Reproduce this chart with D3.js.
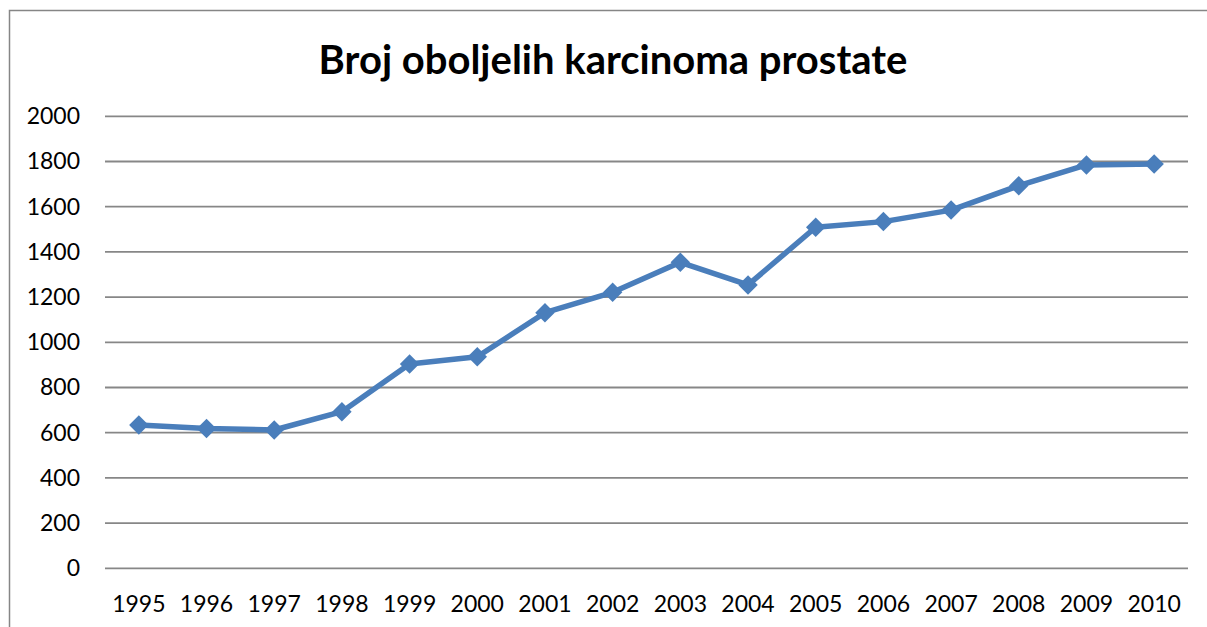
<!DOCTYPE html>
<html>
<head>
<meta charset="utf-8">
<script src="https://cdn.jsdelivr.net/npm/d3@7"></script>
<style>
  body { margin: 0; background: #fff; }
  svg { display: block; font-family: Lato, "Open Sans", sans-serif; }
</style>
</head>
<body>
<svg class="chart"></svg>
<script>
const years = ["1995", "1996", "1997", "1998", "1999", "2000", "2001", "2002",
               "2003", "2004", "2005", "2006", "2007", "2008", "2009", "2010"]
const cases = [634, 619, 612, 693, 904, 936, 1131, 1221,
               1354, 1254, 1509, 1534, 1585, 1693, 1785, 1789]
const yTicks = [0, 200, 400, 600, 800, 1000, 1200, 1400, 1600, 1800, 2000]
const title = "Broj oboljelih karcinoma prostate"

const width = 1207
const height = 627
const plot = { left: 105, right: 1188, top: 116.3, bottom: 568.3 }
const blue = "#4a7ebb"

const svg = d3.select("svg.chart")
        .attr("width", width)
        .attr("height", height)

// chart frame (left and top edges are the only ones in view)
svg.append("path")
        .attr("d", "M9.5,627 V10.5 H1207")
        .style("fill", "none")
        .style("stroke", "#868686")
        .style("stroke-width", 1.5)

svg.append("text")
        .attr("x", 613)
        .attr("y", 74)
        .attr("text-anchor", "middle")
        .style("font-weight", "bold")
        .style("font-size", "40px")
        .style("fill", "#000")
        .text(title)

const xScale = d3.scaleBand()
        .domain(years)
        .range([plot.left, plot.right])

const yScale = d3.scaleLinear()
        .domain([0, 2000])
        .range([plot.bottom, plot.top])

// gridlines
svg.append("g")
        .selectAll("line")
        .data(yTicks)
        .enter()
        .append("line")
        .attr("x1", plot.left)
        .attr("x2", plot.right)
        .attr("y1", d => yScale(d))
        .attr("y2", d => yScale(d))
        .style("stroke", "#878787")
        .style("stroke-width", 1.8)

const yAxis = svg.append("g")
        .attr("transform", "translate(" + 80 + ",0)")
        .call(d3.axisLeft(yScale).tickValues(yTicks).tickFormat(d3.format("d")).tickSize(0).tickPadding(0))
yAxis.select(".domain").remove()
yAxis.selectAll("text")
        .style("font-family", "Lato, 'Open Sans', sans-serif")
        .style("font-size", "23px")
        .style("fill", "#000")

const xAxis = svg.append("g")
        .attr("transform", "translate(0," + plot.bottom + ")")
        .call(d3.axisBottom(xScale).tickSize(0).tickPadding(27.5))
xAxis.select(".domain").remove()
xAxis.selectAll("text")
        .style("font-family", "Lato, 'Open Sans', sans-serif")
        .style("font-size", "23px")
        .style("fill", "#000")

const cx = (d, i) => xScale(years[i]) + xScale.bandwidth() / 2

const line = d3.line()
        .x((d, i) => cx(d, i))
        .y(d => yScale(d))

svg.append("path")
        .datum(cases)
        .attr("d", line)
        .style("fill", "none")
        .style("stroke", blue)
        .style("stroke-width", 5.5)
        .style("stroke-linejoin", "round")

svg.append("g")
        .selectAll("path")
        .data(cases)
        .enter()
        .append("path")
        .attr("d", d3.symbol(d3.symbolSquare, 190))
        .attr("transform", (d, i) => "translate(" + cx(d, i) + "," + yScale(d) + ")rotate(45)")
        .style("fill", blue)
</script>
</body>
</html>
